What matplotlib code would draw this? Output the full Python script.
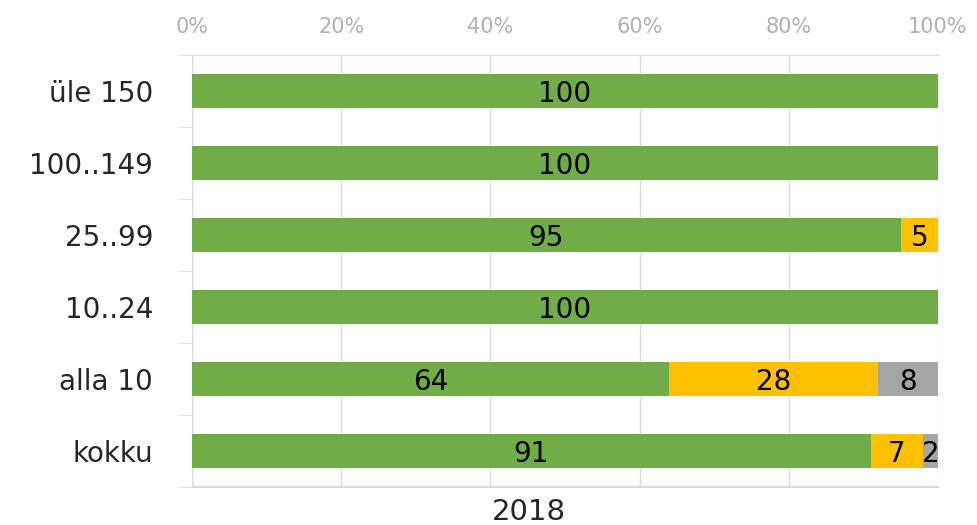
import numpy as np
import matplotlib.pyplot as plt
from matplotlib.ticker import FuncFormatter

# andmed
categories = ['üle 150', '100..149', '25..99', '10..24', 'alla 10', 'kokku']
green_vals = [100, 100, 95, 100, 64, 91]
yellow_vals = [0, 0, 5, 0, 28, 7]
gray_vals = [0, 0, 0, 0, 8, 2]
xlabel_text = '2018'

colors = ['#70ad47', '#ffc000', '#a5a5a5']
series = [green_vals, yellow_vals, gray_vals]

plt.rcParams['font.family'] = ['DejaVu Sans']

fig = plt.figure(figsize=(9.77, 5.25), dpi=100)
ax = fig.add_axes([0.1965, 0.0724, 0.7635, 0.8228])

y = np.arange(len(categories))
left = np.zeros(len(categories))
for vals, col in zip(series, colors):
    vals = np.array(vals, dtype=float)
    ax.barh(y, vals, left=left, height=0.47, color=col, zorder=3)
    for yi, v, l in zip(y, vals, left):
        if v > 0:
            ax.text(l + v / 2, yi + 0.04, f'{v:.0f}', ha='center', va='center',
                    fontsize=20, color='#000000', zorder=4)
    left += vals

ax.set_xlim(0, 100)
ax.set_ylim(len(categories) - 0.5, -0.5)
ax.set_xticks(np.arange(0, 101, 20))
ax.xaxis.set_major_formatter(FuncFormatter(lambda v, p: f'{v:.0f}%'))
ax.xaxis.tick_top()
ax.tick_params(axis='x', length=0, labelsize=15, labelcolor='#b0b0b0', pad=13)

ax.set_yticks(y)
ax.set_yticklabels(categories, fontsize=20, color='#262626')
ax.set_yticks(np.arange(-0.5, len(categories)), minor=True)
ax.tick_params(axis='y', which='major', length=0, pad=28)
ax.tick_params(axis='y', which='minor', length=10, color='#d9d9d9')

ax.xaxis.grid(True, color='#d9d9d9', linewidth=1, zorder=0)
for s in ['left', 'bottom', 'top']:
    ax.spines[s].set_color('#d9d9d9')
ax.spines['bottom'].set_linewidth(1.5)
ax.spines['right'].set_visible(False)

fig.text(0.5410, 0.025, xlabel_text, ha='center', va='center',
         fontsize=21, color='#262626')

fig.savefig('out.png', dpi=100)
